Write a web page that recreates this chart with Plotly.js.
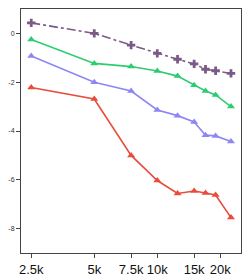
<!DOCTYPE html>
<html><head><meta charset="utf-8">
<script src="https://cdn.plot.ly/plotly-3.0.1.min.js"></script>
<style>html,body{margin:0;padding:0;background:#fff}#c{width:251px;height:278px}</style>
</head><body><div id="c"></div>
<script>
var xValues = [2500, 5000, 7500, 10000, 12500, 15000, 17000, 19000, 22500];
var purpleY = [0.43, 0.0, -0.48, -0.82, -1.06, -1.25, -1.47, -1.53, -1.64];
var greenY = [-0.25, -1.23, -1.36, -1.54, -1.75, -2.13, -2.36, -2.52, -3.0];
var blueY = [-0.93, -2.0, -2.36, -3.14, -3.37, -3.63, -4.17, -4.2, -4.43];
var redY = [-2.22, -2.69, -5.0, -6.03, -6.56, -6.46, -6.54, -6.62, -7.55];
var xTickVals = [2500, 5000, 7500, 10000, 15000, 20000];
var xTickText = ["2.5k", "5k", "7.5k", "10k", "15k", "20k"];
var yTickVals = [0, -2, -4, -6, -8];

function tri(y, color) {
  return {x: xValues, y: y, mode: 'lines+markers', type: 'scatter',
    line: {color: color, width: 1.6},
    marker: {symbol: 'triangle-up', size: 7, color: color}};
}
var traces = [
  tri(redY, '#e74c3c'),
  tri(blueY, '#8f86f6'),
  tri(greenY, '#2ecc71'),
  {x: xValues, y: purpleY, mode: 'lines+markers', type: 'scatter',
    line: {color: '#7b5a88', width: 1.6, dash: 'dashdot'},
    marker: {symbol: 'cross', size: 7, color: '#7b5a88'}}
];
var layout = {
  width: 251, height: 278,
  margin: {l: 21, r: 10, t: 9, b: 25},
  showlegend: false,
  paper_bgcolor: '#fff', plot_bgcolor: '#fff',
  font: {family: 'Liberation Sans, Arial, sans-serif', color: '#222'},
  xaxis: {type: 'log', range: [3.349, 4.400], tickvals: xTickVals, ticktext: xTickText,
    showgrid: false, zeroline: false, showline: true, mirror: true, linecolor: '#444', linewidth: 1,
    ticks: 'outside', ticklen: 4, tickcolor: '#444', tickfont: {size: 13, color: '#111'}},
  yaxis: {range: [-9, 1], tickvals: yTickVals, ticktext: ['0', '-2', '-4', '-6', '-8'],
    showgrid: false, zeroline: false, showline: true, mirror: true, linecolor: '#444', linewidth: 1,
    ticks: 'outside', ticklen: 4, tickcolor: '#444', tickfont: {size: 7, color: '#333'}}
};
Plotly.newPlot('c', traces, layout, {staticPlot: true, displayModeBar: false});
</script></body></html>
